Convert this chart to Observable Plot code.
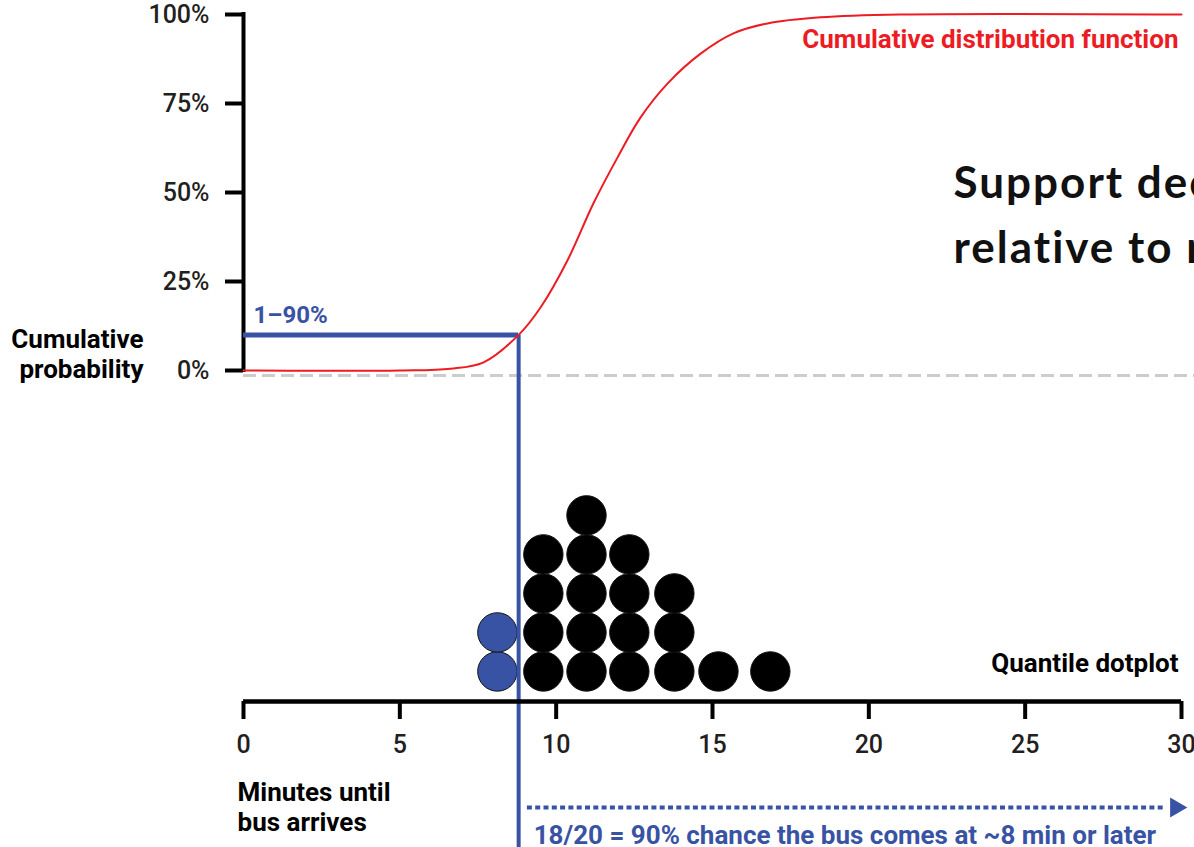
<!DOCTYPE html>
<html><head><meta charset="utf-8">
<script src="https://cdn.jsdelivr.net/npm/d3@7"></script>
<script src="https://cdn.jsdelivr.net/npm/@observablehq/plot@0.6"></script>
<style>
html,body{margin:0;padding:0;background:#fff;overflow:hidden;}
#chart{width:1194px;height:847px;position:relative;}
#chart svg{display:block;}
g[font-family^="Lato"]{letter-spacing:2px;}
</style></head><body><div id="chart"></div>
<script>
// ---- data ----
const cdfMinutes = [0, 5.0, 6.62, 7.68, 8.8, 9.50, 10.36, 11.19, 11.96, 12.70, 13.56, 14.62, 15.67, 16.76, 18.45, 21.0, 30];
const cdfProb    = [0, 0.0, 0.005, 0.023, 0.10, 0.177, 0.309, 0.469, 0.598, 0.711, 0.806, 0.890, 0.947, 0.975, 0.992, 1.0, 1.0];
const probTicks = [0, 0.25, 0.5, 0.75, 1];
const minuteTicks = [0, 5, 10, 15, 20, 25, 30];
const dotColumns = [8.12, 9.59, 10.97, 12.34, 13.78, 15.19, 16.85];
const dotCounts  = [2, 4, 5, 4, 3, 1, 1];
const threshold = 8.8;        // minutes
const thresholdProb = 0.1;    // cumulative probability at threshold
const baselineProb = -0.014;  // dashed reference line
const arrowStart = 9.08, arrowEnd = 29.52, arrowHead = 29.82;
const headlineX = 22.71, headlineY = 0.303;

const labels = {
  thresholdTag: "1–90%",
  yTitle: "Cumulative\nprobability",
  cdf: "Cumulative distribution function",
  headline: "Support decisions\nrelative to risk",
  dotplot: "Quantile dotplot",
  xTitle: "Minutes until\nbus arrives",
  note: "18/20 = 90% chance the bus comes at ~8 min or later"
};

const BLUE = "#3953a4", RED = "#ed1c24", GRAY = "#cccccc", INK = "#231f20";

const cdf = cdfMinutes.map((m, i) => ({minutes: m, prob: cdfProb[i]}));
const dots = [];
dotColumns.forEach((m, i) => {
  for (let k = 0; k < dotCounts[i]; k++) dots.push({minutes: m, level: k, below: m < threshold});
});

const baseStyle = {fontFamily: "Roboto, sans-serif", fontSize: "26px", overflow: "hidden", background: "transparent"};

const topPlot = Plot.plot({
  width: 1194, height: 390,
  marginLeft: 243, marginRight: 13, marginTop: 14, marginBottom: 20,
  x: {domain: [0, 30], axis: null},
  y: {domain: [0, 1]},
  style: baseStyle,
  marks: [
    Plot.ruleY([baselineProb], {x1: 0, x2: 30.5, stroke: GRAY, strokeWidth: 3, strokeDasharray: "13,6"}),
    Plot.axisY({ticks: probTicks, tickFormat: d3.format(".0%"), tickSize: 18, tickPadding: 16,
      strokeWidth: 4, stroke: "black", fill: INK, fontSize: 25, fontWeight: 500, label: null}),
    Plot.ruleX([0], {y1: 0, y2: 1, stroke: "black", strokeWidth: 4, strokeLinecap: "square"}),
    Plot.ruleY([thresholdProb], {x1: 0, x2: threshold, stroke: BLUE, strokeWidth: 5}),
    Plot.ruleX([threshold], {y1: thresholdProb, y2: -0.2, stroke: BLUE, strokeWidth: 4}),
    Plot.line(cdf, {x: "minutes", y: "prob", stroke: RED, strokeWidth: 2, curve: "catmull-rom"}),
    Plot.text([labels.thresholdTag], {x: 0, y: thresholdProb, dx: 10, dy: -12, lineAnchor: "bottom",
      textAnchor: "start", fill: BLUE, fontSize: 24, fontWeight: "bold"}),
    Plot.text([labels.yTitle], {x: 0, y: 0, dx: -100, dy: 7, lineAnchor: "bottom", lineHeight: 1.15,
      textAnchor: "end", fill: "black", fontWeight: "bold"}),
    Plot.text([labels.cdf], {x: 30, y: 1, dx: -3, dy: 33, lineAnchor: "bottom", textAnchor: "end",
      fill: RED, fontWeight: "bold"}),
    Plot.text([labels.headline], {x: headlineX, y: headlineY, lineAnchor: "bottom", textAnchor: "start",
      fontFamily: "Lato, sans-serif", fontSize: 44, fontWeight: "bold", lineHeight: 1.48, fill: "#111"})
  ]
});

const axisLevel = -0.77;
const bottomPlot = Plot.plot({
  width: 1194, height: 457,
  marginLeft: 243, marginRight: 13, marginTop: 0, marginBottom: 146,
  x: {domain: [0, 30]},
  y: {domain: [axisLevel, 7.2], axis: null},
  style: baseStyle,
  marks: [
    Plot.dot(dots, {x: "minutes", y: "level", r: 19.7, fill: d => d.below ? BLUE : "black",
      stroke: "#111", strokeWidth: 1}),
    Plot.ruleX([threshold], {y1: 7.2, y2: -5, stroke: BLUE, strokeWidth: 4}),
    Plot.ruleY([axisLevel], {x1: 0, x2: 30, stroke: "black", strokeWidth: 4.5}),
    Plot.axisX({ticks: minuteTicks, tickSize: 18, tickPadding: 16, strokeWidth: 4, stroke: "black",
      fill: INK, fontSize: 25, fontWeight: 500, label: null}),
    Plot.text([labels.dotplot], {x: 30, y: 0, dx: -3, dy: 1, lineAnchor: "bottom", textAnchor: "end",
      fill: "black", fontWeight: "bold"}),
    Plot.text([labels.xTitle], {x: 0, y: axisLevel, dx: -6, dy: 129, lineAnchor: "bottom", lineHeight: 1.15,
      textAnchor: "start", fill: "black", fontWeight: "bold"}),
    Plot.ruleY([axisLevel], {x1: arrowStart, x2: arrowEnd, dy: 106, stroke: BLUE, strokeWidth: 4,
      strokeDasharray: "5,3.3"}),
    Plot.dot([arrowHead], {x: d => d, y: axisLevel, dy: 106, symbol: "triangle", r: 7.4, rotate: 90,
      fill: BLUE, stroke: "none"}),
    Plot.text([labels.note], {x: threshold, y: axisLevel, dx: 15, dy: 142, lineAnchor: "bottom",
      textAnchor: "start", fill: BLUE, fontWeight: "bold"})
  ]
});

const root = document.getElementById("chart");
root.appendChild(topPlot);
root.appendChild(bottomPlot);
</script></body></html>
